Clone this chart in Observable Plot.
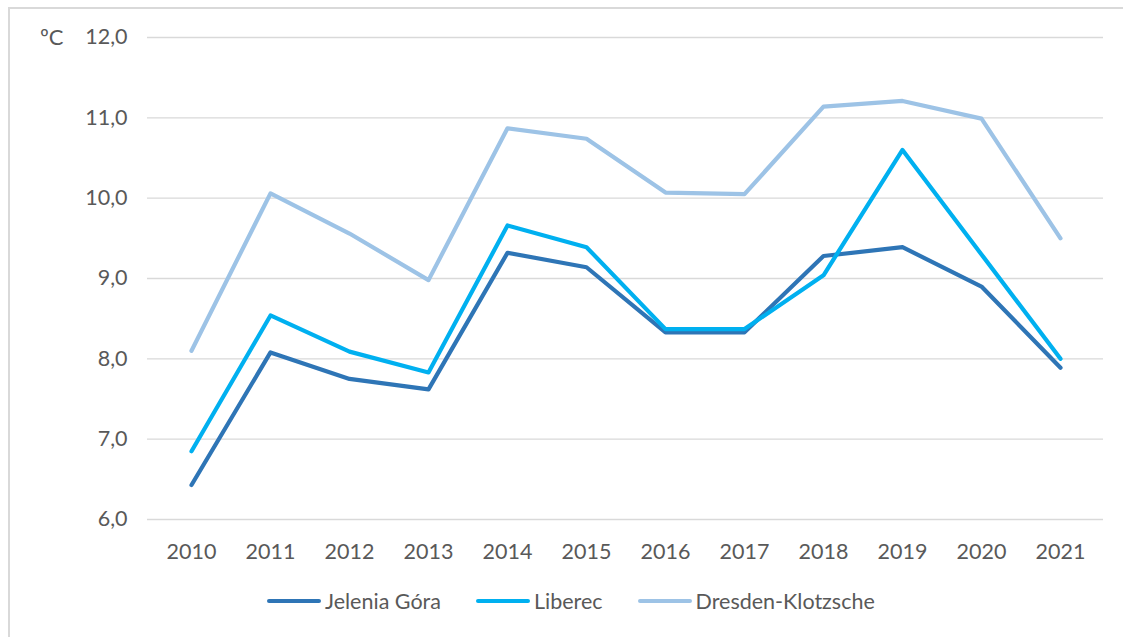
<!DOCTYPE html>
<html>
<head>
<meta charset="utf-8">
<script src="https://cdn.jsdelivr.net/npm/d3@7"></script>
<script src="https://cdn.jsdelivr.net/npm/@observablehq/plot@0.6"></script>
<style>
  body { margin: 0; background: #fff; font-family: Lato, "Open Sans", sans-serif; }
  #wrap { position: relative; width: 1123px; height: 637px; overflow: hidden; }
  #frame { position: absolute; left: 8px; top: 7px; width: 1200px; height: 700px; border: 2px solid #d9d9d9; box-sizing: border-box; }
  #chart { position: absolute; left: 0; top: 0; }
  #unit { position: absolute; left: 40px; top: 23px; font-size: 22px; color: #595959; }
  #legend { position: absolute; left: 267px; top: 588px; display: flex; align-items: center; font-size: 21.5px; color: #595959; }
  .item { display: flex; align-items: center; margin-right: 35px; }
  .sw { width: 54px; height: 4px; margin-right: 4px; border-radius: 2px; }
</style>
</head>
<body>
<div id="wrap">
  <div id="frame"></div>
  <div id="chart"></div>
  <div id="unit">ºC</div>
  <div id="legend"></div>
</div>
<script>
const years = ["2010","2011","2012","2013","2014","2015","2016","2017","2018","2019","2020","2021"];
const seriesNames = ["Jelenia Góra", "Liberec", "Dresden-Klotzsche"];
const jeleniaGora = [6.43, 8.08, 7.75, 7.62, 9.32, 9.14, 8.33, 8.33, 9.28, 9.39, 8.90, 7.89];
const liberec     = [6.85, 8.54, 8.09, 7.83, 9.66, 9.39, 8.37, 8.37, 9.04, 10.60, 9.30, 8.00];
const dresden     = [8.10, 10.06, 9.56, 8.98, 10.87, 10.74, 10.07, 10.05, 11.14, 11.21, 10.99, 9.50];
const yTicks = [6, 7, 8, 9, 10, 11, 12];
const colors = ["#2E75B6", "#00B0F0", "#9DC3E6"];

const allSeries = [jeleniaGora, liberec, dresden];
const data = [];
seriesNames.forEach((name, i) => {
  years.forEach((yr, j) => data.push({series: name, year: yr, value: allSeries[i][j]}));
});

const fmt = d => d.toFixed(1).replace(".", ",");

const chart = Plot.plot({
  width: 1123,
  height: 575,
  marginLeft: 147,
  marginRight: 20,
  marginTop: 37,
  marginBottom: 56,
  style: { fontFamily: "Lato, 'Open Sans', sans-serif", fontSize: "21.5px", color: "#595959", background: "transparent" },
  x: { type: "point", domain: years, padding: 0.5, label: null, tickSize: 0, tickPadding: 24 },
  y: { domain: [6, 12], ticks: yTicks, tickFormat: fmt, label: null, tickSize: 0, tickPadding: 20 },
  color: { domain: seriesNames, range: colors },
  marks: [
    Plot.ruleY(yTicks, { stroke: "#d9d9d9", strokeWidth: 1.3 }),
    Plot.line(data.filter(d => d.series === "Dresden-Klotzsche"), { x: "year", y: "value", stroke: "series", strokeWidth: 4.2, strokeLinejoin: "round", strokeLinecap: "round" }),
    Plot.line(data.filter(d => d.series === "Jelenia Góra"), { x: "year", y: "value", stroke: "series", strokeWidth: 4.2, strokeLinejoin: "round", strokeLinecap: "round" }),
    Plot.line(data.filter(d => d.series === "Liberec"), { x: "year", y: "value", stroke: "series", strokeWidth: 4.2, strokeLinejoin: "round", strokeLinecap: "round" })
  ]
});
document.getElementById("chart").appendChild(chart);

const legend = document.getElementById("legend");
seriesNames.forEach((name, i) => {
  const it = document.createElement("div");
  it.className = "item";
  const sw = document.createElement("div");
  sw.className = "sw";
  sw.style.background = colors[i];
  const lb = document.createElement("span");
  lb.textContent = name;
  it.appendChild(sw); it.appendChild(lb);
  legend.appendChild(it);
});
</script>
</body>
</html>
